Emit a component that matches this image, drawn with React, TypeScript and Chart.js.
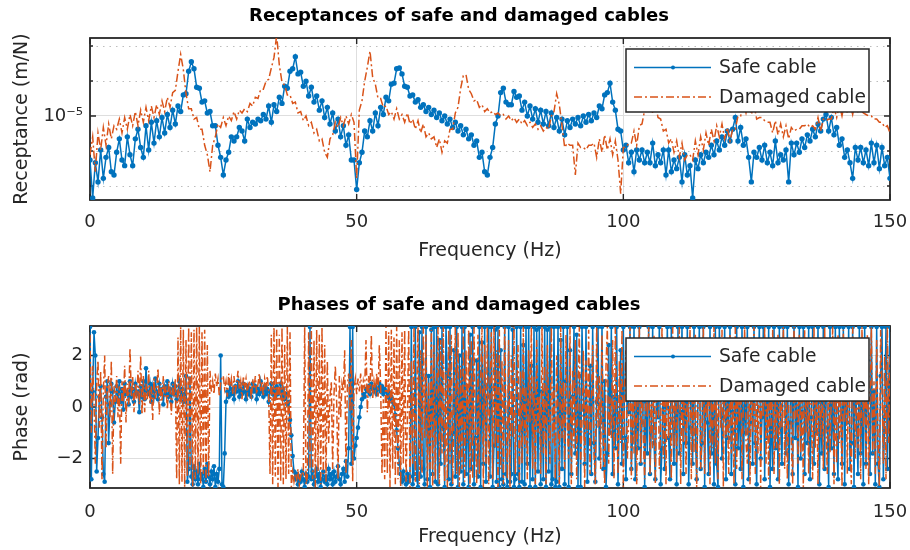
import { useEffect, useRef } from 'react';
import { Chart, registerables } from 'chart.js';

Chart.register(...registerables);

// Receptance sampled every 0.5 Hz, phase every 0.25 Hz, both from 0 to 150 Hz
const RECEPTANCE_STEP_HZ = 0.5;
const PHASE_STEP_HZ = 0.25;

// Receptance magnitude in units of 1e-6 m/N
const safeReceptance = [
  5.6, 3.4, 5.4, 4.2, 6.4, 4.4, 5.8, 6.6, 4.8, 4.6,
  6.2, 7.4, 5.6, 5.2, 7.6, 6.0, 5.2, 7.4, 8.4, 6.6,
  5.8, 8.8, 6.4, 9.2, 7.0, 9.4, 7.6, 9.8, 8.0, 10.2,
  8.6, 10.8, 9.0, 11.4, 10.6, 13.2, 13.4, 18.0, 20.4, 18.6,
  14.6, 14.4, 12.0, 12.2, 10.4, 10.6, 8.8, 8.8, 6.8, 5.8,
  4.6, 5.6, 6.2, 7.6, 7.2, 7.6, 8.6, 8.2, 7.2, 9.6,
  8.6, 9.2, 9.0, 9.6, 9.4, 10.2, 9.6, 11.4, 9.2, 11.6,
  10.6, 12.8, 11.8, 14.8, 14.4, 18.0, 18.6, 21.8, 17.4, 17.8,
  14.8, 15.8, 13.0, 14.6, 12.0, 13.0, 10.8, 12.2, 9.8, 11.2,
  9.0, 10.4, 8.2, 9.6, 7.6, 8.8, 6.8, 7.8, 5.6, 5.6,
  3.8, 5.4, 6.2, 8.2, 7.6, 9.4, 8.2, 10.4, 8.8, 11.2,
  10.2, 12.8, 12.2, 15.2, 15.4, 18.6, 18.8, 17.4, 14.8, 14.6,
  13.0, 13.2, 12.0, 12.4, 11.2, 11.6, 10.6, 11.2, 10.2, 10.8,
  9.8, 10.4, 9.4, 10.0, 9.0, 9.6, 8.6, 9.2, 8.2, 8.8,
  7.8, 8.4, 7.4, 7.8, 6.8, 7.2, 5.8, 6.2, 4.8, 4.6,
  5.8, 6.6, 9.0, 10.0, 13.6, 14.4, 12.0, 11.6, 11.6, 13.8,
  12.8, 13.0, 10.8, 12.0, 10.0, 11.4, 9.6, 11.0, 9.2, 10.8,
  9.0, 10.6, 8.8, 10.4, 8.6, 9.8, 8.2, 9.6, 7.8, 9.4,
  8.6, 9.6, 9.0, 9.8, 8.8, 10.0, 9.2, 10.2, 9.4, 10.4,
  9.8, 11.4, 11.0, 13.2, 13.6, 15.4, 12.0, 10.8, 8.4, 8.2,
  6.4, 6.8, 5.4, 6.2, 4.8, 6.4, 5.6, 6.4, 5.4, 6.2,
  5.4, 7.0, 5.2, 6.0, 5.4, 6.4, 4.6, 6.4, 4.8, 5.6,
  5.0, 5.8, 4.2, 6.0, 4.6, 5.2, 3.4, 5.6, 5.0, 6.0,
  5.4, 6.2, 5.8, 6.8, 6.0, 7.2, 6.4, 7.6, 6.8, 8.2,
  7.2, 8.4, 9.8, 7.2, 8.6, 6.8, 7.4, 5.8, 4.2, 6.2,
  5.8, 6.6, 5.6, 6.8, 5.4, 6.2, 5.2, 7.2, 5.4, 6.0,
  5.6, 6.4, 4.2, 7.0, 6.0, 7.0, 6.2, 7.4, 6.6, 7.8,
  7.2, 8.4, 7.6, 9.0, 8.2, 9.6, 10.2, 8.2, 9.8, 7.8,
  8.6, 6.8, 7.4, 5.8, 6.4, 5.4, 4.4, 6.6, 5.6, 6.6,
  5.4, 6.4, 5.2, 7.0, 5.4, 6.8, 5.0, 6.6, 5.2, 5.8,
  4.4,
];

const damagedReceptance = [
  6.0, 7.6, 4.8, 8.0, 6.4, 8.6, 6.8, 9.0, 7.4, 8.8,
  8.4, 9.6, 8.0, 9.8, 8.4, 10.2, 8.8, 10.6, 8.8, 10.8,
  9.2, 11.2, 9.4, 11.4, 9.8, 11.6, 10.2, 12.2, 10.6, 12.8,
  11.2, 13.6, 14.0, 18.0, 22.5, 18.4, 13.4, 11.0, 11.0, 9.6,
  9.8, 8.4, 8.4, 6.8, 6.0, 4.8, 6.8, 7.6, 9.0, 8.6,
  9.8, 8.8, 10.0, 9.4, 10.6, 9.6, 10.8, 10.4, 11.0, 10.6,
  11.8, 11.4, 12.8, 12.6, 14.2, 14.2, 15.8, 16.2, 18.8, 21.6,
  29.0, 19.5, 15.6, 15.0, 13.2, 13.2, 11.8, 12.0, 10.4, 10.6,
  9.4, 10.0, 8.8, 9.2, 8.0, 8.4, 7.2, 7.4, 6.2, 5.8,
  7.4, 7.8, 9.2, 8.6, 9.8, 8.8, 10.0, 9.0, 10.2, 9.2,
  4.4, 10.8, 12.2, 15.8, 19.0, 23.5, 16.6, 15.2, 12.6, 12.6,
  11.2, 11.4, 10.2, 10.6, 9.6, 11.0, 9.6, 10.2, 9.2, 10.4,
  9.0, 9.6, 8.4, 9.4, 8.0, 9.0, 7.6, 8.0, 7.4, 7.6,
  6.6, 7.4, 6.2, 7.2, 7.0, 8.4, 8.4, 10.4, 11.2, 14.4,
  17.0, 17.2, 14.2, 13.4, 12.2, 12.4, 11.2, 11.6, 10.6, 11.0,
  10.4, 10.6, 10.2, 10.4, 10.0, 10.2, 9.6, 10.0, 9.4, 9.8,
  9.2, 9.6, 9.0, 9.4, 8.8, 9.2, 8.6, 9.0, 8.4, 8.8,
  8.2, 8.6, 8.4, 10.0, 10.6, 13.4, 11.6, 8.8, 6.6, 7.0,
  6.8, 6.8, 4.6, 7.0, 6.6, 6.6, 6.4, 6.8, 6.8, 7.0,
  5.8, 7.4, 6.2, 7.8, 6.4, 7.4, 6.0, 7.2, 5.6, 3.6,
  6.6, 6.6, 7.0, 7.0, 8.2, 6.8, 8.8, 9.0, 10.8, 11.0,
  12.2, 10.4, 12.0, 9.8, 9.6, 8.2, 8.4, 7.0, 7.4, 6.2,
  7.2, 5.8, 7.0, 5.6, 6.0, 6.0, 5.6, 7.2, 6.0, 7.6,
  6.4, 8.0, 6.8, 8.4, 7.2, 8.8, 7.6, 9.0, 7.4, 8.6,
  7.2, 8.4, 8.4, 10.0, 10.0, 11.8, 10.4, 12.0, 10.2, 11.6,
  9.6, 9.8, 9.8, 9.4, 9.2, 9.2, 8.0, 9.4, 7.8, 9.0,
  7.6, 8.8, 7.4, 8.6, 8.2, 8.4, 8.4, 8.8, 8.8, 9.0,
  8.6, 8.8, 8.4, 9.8, 8.2, 9.6, 9.4, 9.6, 9.6, 11.2,
  9.8, 11.6, 10.0, 12.0, 10.4, 11.8, 10.2, 12.2, 10.6, 10.8,
  10.4, 10.2, 10.0, 10.0, 9.6, 9.6, 9.2, 9.2, 8.6, 8.8,
  8.0,
];

// Phase in rad, every 0.25 Hz
const safePhase = [
  3.1, -2.8, 0.6, 2.9, 2.0, -2.5, -1.2, 0.4, 0.8, -0.4, -2.6, -2.9, 0.4, 1.0, -1.4, 0.1, 0.9, 0.6, -0.6, 0.2,
  0.8, 0.3, 1.0, 0.2, 0.7, -0.1, 0.9, 0.5, 0.6, 0.1, 1.0, 0.4, 0.7, 0.2, 0.9, 0.5, 0.6, -0.2, 0.8, 0.4,
  1.0, 0.3, 1.5, 0.6, 0.5, 0.9, 0.2, 0.8, 0.4, 1.1, 0.6, 0.3, 0.9, 0.5, 0.7, 0.1, 0.8, 0.5, 1.0, 0.4,
  0.7, 0.2, 0.9, 0.5, 0.8, 0.3, 0.6, 1.0, 0.4, 0.7, 0.2, 0.5, 1.2, -2.9, -2.4, 1.1, -2.7, -3.0, -2.3, -2.8,
  -2.5, -3.0, -2.2, -2.8, -2.6, -3.1, -2.4, -2.9, -2.2, -2.7, -3.0, -2.5, -2.8, -2.3, -3.1, -2.6, -2.9, -2.4, 2.0, -3.0,
  -3.1, -1.8, 0.2, 0.6, 0.4, 0.9, 0.5, 0.7, 0.3, 0.8, 0.6, 1.0, 0.4, 0.7, 0.5, 0.9, 0.6, 0.3, 0.8, 0.5,
  0.7, 0.4, 0.9, 0.6, 0.8, 0.3, 0.7, 0.5, 1.0, 0.6, 0.4, 0.8, 0.5, 0.7, 0.2, 0.6, 0.9, 0.5, 0.7, 0.4,
  0.8, 0.5, 0.6, 0.9, 0.4, 0.7, 0.3, 0.5, 0.1, 0.2, -0.5, -1.1, -1.9, -2.5, -2.8, -2.6, -3.0, -2.7, -2.9, -2.5,
  -2.8, -3.1, -2.6, -2.9, -2.7, 3.1, -2.8, -2.5, -3.0, -2.7, -2.4, -2.9, -2.6, -3.1, -2.8, -2.5, -2.9, -2.7, -3.0, -2.4,
  -2.8, -2.6, -3.0, -2.5, -2.9, -2.7, -2.3, -2.8, -3.0, -2.6, -2.4, -2.9, -2.1, -2.7, -1.6, 3.1, -2.2, 3.1, -2.0, -1.5,
  -1.2, -0.8, -0.4, 0.0, 0.3, 0.5, 0.4, 0.7, 0.6, 0.8, 0.5, 0.9, 0.7, 0.6, 0.8, 0.5, 0.7, 0.9, 0.6, 0.8,
  0.5, 0.7, 0.6, 0.4, 0.6, 0.3, 0.4, 0.2, 0.1, -0.3, -0.9, -1.6, -2.2, -2.6, -2.9, -2.5, -2.8, -3.0, -2.6, -2.9,
  -2.7, 3.1, -3.0, -2.6, 3.1, -2.8, -3.1, 2.9, -2.7, 3.1, -2.4, -3.0, 3.1, -2.8, 1.2, -3.1, 3.0, -2.6, 3.1, -2.9,
  3.1, -3.0, 2.6, -2.2, 3.1, -0.8, -3.1, 3.1, 1.2, -2.8, 3.1, -3.0, -1.0, 2.2, -2.7, 3.1, -3.1, 2.0, -2.5, 3.1,
  -3.0, 3.1, -2.6, 0.8, -3.1, 2.8, -2.4, 3.1, -3.0, -1.2, 1.8, -2.7, 3.1, -3.1, 2.5, -2.2, 3.1, -2.9, 0.4, 3.1,
  -2.7, 3.1, -3.1, -1.5, 3.0, -2.9, 3.1, -3.1, 2.2, -2.8, -3.0, 3.1, -2.6, -3.1, 3.1, -2.9, -2.6, 3.0, -3.1, -2.8,
  3.1, -2.6, -3.1, 3.1, -2.9, 2.4, -3.0, 3.1, -2.2, 3.1, -3.1, 1.6, -2.8, 3.1, -3.1, 3.0, -2.5, 3.1, -3.0, 0.6,
  -2.8, 3.1, -3.1, 3.0, -2.5, 3.1, -3.0, -2.8, 3.1, -3.1, -2.9, 3.1, -3.1, 2.6, -2.4, 3.1, -3.0, 1.0, 3.1, -3.1,
  2.2, -2.6, 0.4, 3.1, -1.8, 2.8, -3.1, 1.2, -3.1, 3.1, 0.6, -2.2, 3.1, -2.9, -0.8, 1.6, -2.6, 3.1, -1.4, -2.9,
  0.2, 3.1, -2.0, -0.6, 3.1, -2.4, 1.0, -3.1, -1.8, 2.4, -1.0, 3.1, -2.6, 0.4, -1.6, 3.1, -3.0, -0.4, 2.2, -2.2,
  3.1, -1.2, -2.8, 1.4, -0.2, 3.1, -2.4, -1.0, 3.1, -2.8, 0.6, -1.6, 3.1, -2.2, -0.6, 2.6, -3.1, 0.2, -1.8, 3.1,
  -2.6, -0.8, 3.1, -1.4, -2.8, 1.2, -0.4, 3.1, -3.0, -1.6, 2.0, -2.4, 0.0, 3.1, -1.2, -2.8, 3.1, -0.6, -2.2, 1.6,
  -3.0, 3.1, -1.8, -0.2, 3.1, -2.6, 0.8, -1.4, 3.1, -3.0, -0.8, 2.4, -2.2, 3.1, -1.0, -2.8, 0.4, 3.1, -2.4, -1.4,
  3.1, -3.1, 1.8, -0.6, -2.6, 3.1, -1.8, 0.6, -3.0, 3.1, -2.2, -3.1, 3.1, 0.8, -2.0, -0.4, 3.1, -2.8, 1.4, -1.2,
  3.1, -2.6, -0.2, 2.0, -3.0, 3.1, -1.6, 0.4, -2.4, 3.1, -3.1, 1.0, -1.0, 3.1, -2.8, -0.6, 2.6, -2.2, 3.1, -1.4,
  -3.0, 0.8, 3.1, -2.0, -0.4, 3.1, -2.8, 1.6, -1.2, 3.1, -3.1, 0.2, -2.4, 3.1, -1.6, 2.2, -2.8, 3.1, -0.8, -2.2,
  3.1, 0.4, -1.8, 3.1, -3.0, -0.6, 2.4, -2.6, 3.1, -1.2, 0.8, -3.1, 3.1, -2.0, -0.2, 3.1, -2.6, 1.2, -1.4, 3.1,
  -2.8, -0.4, 3.1, -2.2, 1.8, -1.0, 3.1, -3.0, 0.2, -1.8, 3.1, -2.4, 2.6, -0.8, -3.1, 3.1, -1.6, 0.6, -2.6, 3.1,
  -1.2, -2.8, 3.1, 0.4, -2.2, 3.1, -3.0, 1.4, -0.6, 3.1, -2.4, -1.4, 3.1, -3.1, 2.0, -0.8, -2.6, 3.1, -1.8, 0.6,
  -3.0, 3.1, -2.2, 1.8, -0.6, -2.6, 3.1, -1.8, 0.6, -3.0, 3.1, -2.2, -3.1, 1.2, 3.1, -2.8, -0.4, 3.1, -2.4, 0.8,
  3.1,
];

const damagedPhase = [
  2.8, -1.0, 1.6, 0.2, -2.2, 0.9, 1.8, -0.8, 1.4, -2.8, 0.6, 2.0, -1.6, 0.8, 1.2, -0.4, 1.8, -2.6, 0.8, 0.2,
  1.2, -0.4, 0.8, -2.2, 1.0, 0.2, 1.6, -0.6, 0.9, 0.1, 2.3, 0.4, 1.2, -0.2, 0.9, 0.3, 1.4, 0.1, 2.0, -0.3,
  1.2, -0.2, 0.9, 0.3, 1.4, 0.1, 0.8, -0.5, 1.1, 0.3, 0.7, 1.5, -0.3, 0.9, 0.2, 1.2, 0.4, 0.8, -0.1, 1.0,
  0.7, -0.3, 0.9, 0.4, 1.1, -2.8, 2.7, -3.0, 3.1, -2.9, 3.0, -3.1, 2.6, -2.7, 3.1, -2.4, 2.9, -3.1, 3.0, -2.8,
  3.1, -2.6, 3.1, -3.0, 2.9, -2.6, 3.0, -2.9, 2.4, -2.7, 1.4, 0.6, 1.0, 0.5, 1.3, 0.8, 1.1, 0.4, 0.9, 1.2,
  1.2, 0.7, 1.0, 0.4, 1.3, 0.8, 1.1, 0.5, 1.2, 0.6, 0.9, 1.4, 0.7, 1.0, 0.3, 1.2, 0.8, 1.1, 0.5, 0.9,
  1.0, 0.3, 1.1, 0.7, 1.2, 0.5, 0.9, 1.3, 0.6, 1.0, 0.4, 1.1, 0.8, 1.2, 0.6, -2.6, 2.8, -3.0, 3.1, -2.7,
  3.0, -3.1, 2.8, -2.9, 3.1, -3.0, 2.4, -2.8, 3.1, -2.6, 2.9, -3.1, -2.5, -2.9, -2.6, -2.8, -2.4, -3.0, -2.7, -2.5,
  -2.6, 3.1, -3.0, -2.7, 2.9, -2.4, 3.1, -2.8, 2.6, -3.1, 3.0, -2.5, 2.8, -3.0, 3.1, -2.6, 2.4, -2.9, 1.8, -1.4,
  0.4, 1.0, -2.4, 0.5, 1.6, 0.2, -2.8, 1.2, -0.4, 0.9, 0.6, 2.2, -2.6, 0.8, 1.3, -0.2, 2.6, -2.9, 0.7, 1.1,
  0.5, 1.1, 0.6, 1.3, 0.4, 1.0, 0.7, 2.6, -0.2, 1.2, 0.5, 2.8, 0.3, 1.0, 0.6, 1.3, 0.4, 2.4, 0.8, -2.6,
  0.3, -2.8, 3.1, -2.6, 2.9, -3.1, 3.0, -2.4, 2.7, -3.0, 3.1, -2.8, 2.6, -3.1, 2.9, -2.2, 3.0, -2.9, -0.6, 3.0,
  -3.1, 1.8, -2.2, 3.1, -2.9, 0.4, 3.1, -3.0, 2.2, -2.6, 3.1, -1.2, 2.8, -3.1, 1.0, -2.4, 3.0, -3.1, 2.4, -2.8,
  0.6, 3.1, -3.0, 2.6, -1.8, 3.1, -2.9, 1.4, -3.1, 3.0, -2.2, 2.8, -3.0, 0.2, 3.1, -2.6, 2.9, -3.1, 1.6, -2.4,
  3.1, -2.9, 2.2, -1.4, 3.0, -3.1, 2.6, -2.8, 3.1, -0.8, -3.0, 2.8, -2.6, 1.2, 3.1, -3.1, 2.4, -2.2, 3.1, -3.0,
  0.8, 2.9, -2.8, 3.1, -1.6, 2.2, -3.1, 3.0, -2.4, 1.8, -3.0, 3.1, -0.4, -2.8, 2.6, -3.1, 2.0, -1.2, 3.1, -2.6,
  0.6, 2.4, -3.0, 1.4, -2.2, 3.1, -1.6, 0.8, -2.8, 2.2, -0.6, 3.1, -2.4, 1.2, -3.0, 2.6, -1.0, 0.4, -2.6, 3.1,
  -1.8, 1.6, -3.0, 2.4, -0.4, -2.2, 3.1, -1.4, 0.8, -2.8, 2.0, -0.2, -3.0, 3.1, -1.2, 1.0, -2.4, 2.8, -0.8, -2.0,
  3.1, -3.0, 1.4, -1.6, 2.6, -2.8, 0.6, 3.1, -2.2, -0.6, 2.2, -3.1, 1.8, -1.0, 3.0, -2.6, 0.2, 2.4, -1.8, -3.0,
  3.1, -0.8, 1.2, -2.4, 2.8, -1.4, -3.0, 1.6, 3.1, -2.2, 0.4, -1.2, 2.6, -2.8, 3.1, -0.2, -2.6, 1.8, -1.4, 3.0,
  -3.1, 0.8, 2.2, -2.0, -0.6, 3.1, -2.8, 1.2, -1.8, 2.6, -3.0, 0.4, 3.1, -2.2, 1.6, -1.2, -2.8, 2.4, -0.4, 3.1,
  -2.6, 1.0, -1.6, 2.8, -3.0, 0.6, 2.2, -2.4, -0.8, 3.1, -2.0, 1.4, -3.0, 2.6, -1.2, 0.2, -2.8, 3.1, -1.6, 1.8,
  -2.2, 0.4, 3.1, -3.0, 1.2, -1.4, 2.4, -2.6, 0.8, -0.6, 3.1, -2.8, 1.6, -1.8, 2.8, -3.1, 0.2, 2.0, -2.4, -1.0,
  3.1, -2.6, 1.4, -0.4, 2.6, -3.0, 0.6, -1.6, 3.1, -2.2, 1.0, -2.8, 2.2, -0.8, 3.0, -3.1, 1.8, -1.2, 0.4, -2.6,
  2.8, -1.8, 0.8, -3.0, 3.1, -2.4, 1.2, -0.6, 2.4, -2.8, 0.2, 3.1, -1.4, -2.2, 2.0, -3.0, 1.6, -1.0, 3.1, -2.6,
  0.6, -1.8, 2.6, -3.1, 1.4, -0.4, 3.1, -2.2, 0.8, -2.8, 2.2, -1.2, 3.0, -2.6, 0.4, -1.6, 2.8, -3.0, 1.2, -0.8,
  3.1, -2.4, 1.8, -2.8, 0.2, 2.4, -1.4, -3.0, 3.1, -0.6, 1.6, -2.2, 2.8, -1.8, 0.6, -3.1, 3.0, -1.0, 1.2, -2.6,
  2.2, -0.4, -2.8, 3.1, -1.6, 0.8, -3.0, 2.6, -1.2, 1.4, -2.4, 3.1, -0.8, -2.6, 2.0, -1.8, 0.4, 3.1, -3.0, 1.0,
  -2.2, 2.8, -1.4, 0.6, -3.1, 3.0, -0.6, 1.8, -2.6, 2.4, -1.0, -3.0, 3.1, 0.2, -2.0, 2.2, -1.6, 1.2, -2.8, 3.1,
  -0.8, 1.6, -2.4, 2.8, -3.0, 0.4, 3.1, -1.8, 1.0, -2.6, 2.6, -1.2, -3.1, 3.0, 0.8, -2.2, 2.0, -2.8, 3.1, -1.4,
  2.0,
];

const freqTicks = [0, 50, 100, 150];
const receptanceTicks = [1e-5];
const receptanceMinor = [3.98e-6, 6.31e-6, 1.585e-5, 2.512e-5];
const receptanceRange = [3.31e-6, 2.79e-5];
const phaseTicks = [-2, 0, 2];
const phaseRange = [-Math.PI, Math.PI];

const FONT = 'DejaVu Sans';
const TEXT = '#262626';
const GRID = '#dedede';
const BLUE = '#0072BD';
const ORANGE = '#D95319';

function framePlugin(minorY: number[]) {
  return {
    id: 'frame',
    beforeDatasetsDraw(chart: any) {
      const { ctx, chartArea: a } = chart;
      const xs = chart.scales.x;
      const ys = chart.scales.y;
      ctx.save();
      ctx.strokeStyle = '#bdbdbd';
      ctx.lineWidth = 1;
      ctx.setLineDash([1.5, 5]);
      minorY.forEach((v) => {
        const p = Math.round(ys.getPixelForValue(v)) + 0.5;
        ctx.beginPath();
        ctx.moveTo(a.left, p);
        ctx.lineTo(a.right, p);
        ctx.stroke();
      });
      ctx.setLineDash([]);
      ctx.strokeStyle = '#262626';
      ctx.lineWidth = 1.4;
      ctx.beginPath();
      xs.ticks.forEach((t: any) => {
        const p = xs.getPixelForValue(t.value);
        ctx.moveTo(p, a.bottom);
        ctx.lineTo(p, a.bottom - 6);
        ctx.moveTo(p, a.top);
        ctx.lineTo(p, a.top + 6);
      });
      ys.ticks.forEach((t: any) => {
        const p = ys.getPixelForValue(t.value);
        ctx.moveTo(a.left, p);
        ctx.lineTo(a.left + 6, p);
        ctx.moveTo(a.right, p);
        ctx.lineTo(a.right - 6, p);
      });
      minorY.forEach((v) => {
        const p = ys.getPixelForValue(v);
        ctx.moveTo(a.left, p);
        ctx.lineTo(a.left + 3, p);
        ctx.moveTo(a.right, p);
        ctx.lineTo(a.right - 3, p);
      });
      ctx.stroke();
      ctx.lineWidth = 1.8;
      ctx.strokeRect(a.left, a.top, a.right - a.left, a.bottom - a.top);
      ctx.restore();
    },
  };
}

function legendPlugin(offTop: number) {
  return {
    id: 'boxLegend',
    afterDatasetsDraw(chart: any) {
      const { ctx, chartArea: a } = chart;
      const w = 243;
      const h = 63;
      const bx = a.right - 21 - w;
      const by = a.top + offTop;
      ctx.save();
      ctx.fillStyle = '#ffffff';
      ctx.fillRect(bx, by, w, h);
      ctx.strokeStyle = '#262626';
      ctx.lineWidth = 1.5;
      ctx.strokeRect(bx, by, w, h);
      chart.data.datasets.forEach((ds: any, i: number) => {
        const cy = by + 18.5 + i * 29.5;
        ctx.strokeStyle = ds.borderColor;
        ctx.lineWidth = ds.borderWidth;
        ctx.setLineDash(ds.borderDash || []);
        ctx.beginPath();
        ctx.moveTo(bx + 8, cy);
        ctx.lineTo(bx + 85, cy);
        ctx.stroke();
        ctx.setLineDash([]);
        if (ds.pointRadius > 0) {
          ctx.fillStyle = ds.borderColor;
          ctx.beginPath();
          ctx.arc(bx + 47, cy, 2, 0, Math.PI * 2);
          ctx.fill();
        }
        ctx.fillStyle = TEXT;
        ctx.font = `18.7px "${FONT}"`;
        ctx.textAlign = 'left';
        ctx.textBaseline = 'middle';
        ctx.fillText(ds.label, bx + 93, cy + 1);
      });
      ctx.restore();
    },
  };
}

interface PanelSpec {
  title: string;
  titlePad: { top: number; bottom: number };
  xHeight: number;
  xTickPad: number;
  xTitleBottom: number;
  yType: 'linear' | 'logarithmic';
  yRange: number[];
  yTicks: number[];
  yMinor: number[];
  yLabel: string;
  yFmt: (v: number) => string;
  step: number;
  safe: number[];
  damaged: number[];
  legendTop: number;
  markerRadius: number;
}

function makeConfig(p: PanelSpec): any {
  const freqs = p.safe.map((_, i) => i * p.step);
  return {
    type: 'line',
    data: {
      datasets: [
        {
          label: 'Safe cable',
          data: freqs.map((f, i) => ({ x: f, y: p.safe[i] })),
          borderColor: BLUE,
          backgroundColor: BLUE,
          borderWidth: 1.5,
          pointRadius: p.markerRadius,
          pointBorderWidth: 0,
          pointBackgroundColor: BLUE,
          pointHoverRadius: 0,
          order: 1,
        },
        {
          label: 'Damaged cable',
          data: freqs.map((f, i) => ({ x: f, y: p.damaged[i] })),
          borderColor: ORANGE,
          backgroundColor: ORANGE,
          borderWidth: 1.5,
          borderDash: [8, 3, 2, 3],
          pointRadius: 0,
          pointHoverRadius: 0,
          order: 0,
        },
      ],
    },
    options: {
      animation: false,
      responsive: false,
      devicePixelRatio: 1,
      events: [],
      layout: { padding: { left: 28, right: 20, top: 0, bottom: 0 } },
      plugins: {
        legend: { display: false },
        tooltip: { enabled: false },
        title: {
          display: true,
          text: p.title,
          color: '#000',
          font: { family: FONT, size: 18, weight: 'bold' },
          padding: p.titlePad,
        },
      },
      scales: {
        x: {
          type: 'linear',
          min: 0,
          max: 150,
          afterBuildTicks: (s: any) => {
            s.ticks = freqTicks.map((v) => ({ value: v }));
          },
          afterFit: (s: any) => {
            s.height = p.xHeight;
            s.paddingLeft = 0;
            s.paddingRight = 0;
          },
          grid: { color: GRID, lineWidth: 1, drawTicks: false },
          border: { display: false },
          ticks: {
            color: TEXT,
            font: { family: FONT, size: 18 },
            padding: p.xTickPad,
            maxRotation: 0,
            autoSkip: false,
            callback: (v: any) => String(v),
          },
          title: {
            display: true,
            text: 'Frequency (Hz)',
            color: TEXT,
            font: { family: FONT, size: 19 },
            padding: { top: 0, bottom: p.xTitleBottom },
          },
        },
        y: {
          type: p.yType,
          min: p.yRange[0],
          max: p.yRange[1],
          afterBuildTicks: (s: any) => {
            s.ticks = p.yTicks.map((v) => ({ value: v }));
          },
          afterFit: (s: any) => {
            s.width = 62;
            s.paddingTop = 0;
            s.paddingBottom = 0;
          },
          grid: { color: GRID, lineWidth: 1, drawTicks: false },
          border: { display: false },
          ticks: {
            color: TEXT,
            font: { family: FONT, size: 18 },
            padding: 7,
            autoSkip: false,
            callback: (v: any) => p.yFmt(Number(v)),
          },
          title: {
            display: true,
            text: p.yLabel,
            color: TEXT,
            font: { family: FONT, size: 19 },
            padding: { top: -17.4, bottom: 0 },
          },
        },
      },
    },
    plugins: [framePlugin(p.yMinor), legendPlugin(p.legendTop)],
  };
}

export default function App() {
  const topRef = useRef<HTMLCanvasElement>(null);
  const botRef = useRef<HTMLCanvasElement>(null);

  useEffect(() => {
    const top = new Chart(
      topRef.current as HTMLCanvasElement,
      makeConfig({
        title: 'Receptances of safe and damaged cables',
        titlePad: { top: 5.8, bottom: 10.6 },
        xHeight: 75,
        xTickPad: 12,
        xTitleBottom: 12.6,
        yType: 'logarithmic',
        yRange: receptanceRange,
        yTicks: receptanceTicks,
        yMinor: receptanceMinor,
        yLabel: 'Receptance (m/N)',
        yFmt: (v) => (Math.abs(v - 1e-5) < 1e-9 ? '10⁻⁵' : ''),
        step: RECEPTANCE_STEP_HZ,
        safe: safeReceptance.map((v) => v * 1e-6),
        damaged: damagedReceptance.map((v) => v * 1e-6),
        legendTop: 11,
        markerRadius: 2.7,
      })
    );
    const bottom = new Chart(
      botRef.current as HTMLCanvasElement,
      makeConfig({
        title: 'Phases of safe and damaged cables',
        titlePad: { top: 19.2, bottom: 10.2 },
        xHeight: 62,
        xTickPad: 14,
        xTitleBottom: 1.6,
        yType: 'linear',
        yRange: phaseRange,
        yTicks: phaseTicks,
        yMinor: [],
        yLabel: 'Phase (rad)',
        yFmt: (v) => (v < 0 ? '−' + Math.abs(v) : String(v)),
        step: PHASE_STEP_HZ,
        safe: safePhase,
        damaged: damagedPhase,
        legendTop: 12,
        markerRadius: 2.3,
      })
    );
    return () => {
      top.destroy();
      bottom.destroy();
    };
  }, []);

  return (
    <div style={{ position: 'absolute', left: 0, top: 0, width: 910, height: 550, background: '#fff' }}>
      <canvas ref={topRef} width={910} height={275} style={{ position: 'absolute', left: 0, top: 0 }} />
      <canvas ref={botRef} width={910} height={275} style={{ position: 'absolute', left: 0, top: 275 }} />
    </div>
  );
}
